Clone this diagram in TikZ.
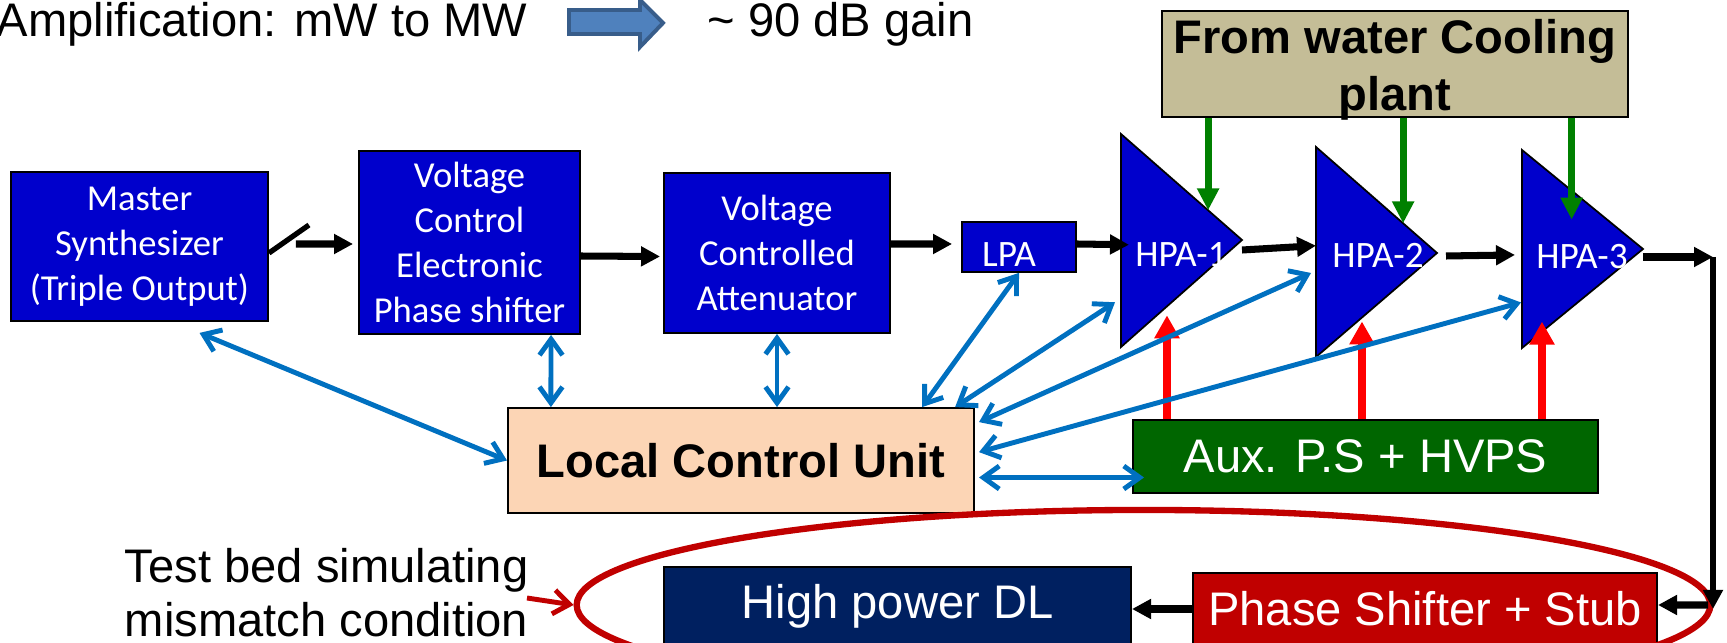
\documentclass[tikz,border=0pt]{standalone}
\usepackage{fontspec}
\setmainfont{Liberation Sans}
\newfontfamily\calib{Carlito}
\usetikzlibrary{arrows.meta, shapes.geometric, calc}
\definecolor{blkblue}{RGB}{0,0,204}
\definecolor{ctlblue}{RGB}{0,112,192}
\definecolor{lcupeach}{RGB}{252,213,181}
\definecolor{auxgreen}{RGB}{0,102,0}
\definecolor{coolgreen}{RGB}{0,128,0}
\definecolor{cooltan}{RGB}{196,189,151}
\definecolor{dlnavy}{RGB}{0,32,96}
\definecolor{stubred}{RGB}{192,0,0}
\definecolor{arrblue}{RGB}{79,129,189}
\definecolor{arredge}{RGB}{56,93,138}

\begin{document}
\begin{tikzpicture}[
        x=0.01cm, y=-0.01cm,
        blk/.style={draw, line width=0.5pt, fill=blkblue, text=white, font=\calib\fontsize{10.4}{12.8}\selectfont, align=center, inner sep=0pt},
        bigbox/.style={draw, line width=0.5pt, text=white, font=\fontsize{13.4}{16}\selectfont, inner sep=0pt},
        hpa/.style={draw, line width=0.5pt, fill=blkblue},
        hpatxt/.style={text=white, font=\calib\fontsize{10.6}{12}\selectfont, inner sep=0pt},
        sig/.style={-{Triangle[length=1.9mm, width=1.9mm]}, line width=2pt},
        slash/.style={line width=1.5pt},
        ctl/.style={{Straight Barb[length=1.6mm, width=2.3mm]}-{Straight Barb[length=1.6mm, width=2.3mm]}, line width=1.4pt, ctlblue},
        water/.style={-{Triangle[length=2.2mm, width=2.1mm]}, line width=2pt, coolgreen},
        hv/.style={-{Triangle[length=2.3mm, width=2.4mm]}, line width=2.2pt, red}
      ]
        \path[use as bounding box, clip] (0,0) rectangle (1727,643);

        % heading
        \node[font=\fontsize{13.4}{16}\selectfont, anchor=base east, inner sep=0pt] (title) at (528,37) {Amplification: mW to MW};
        \draw[fill=arrblue, draw=arredge, line width=1.1pt] (569,10) -- (640,10) -- (640,0) -- (663,23) -- (640,47) -- (640,34) -- (569,34) -- cycle;
        \node[font=\fontsize{13.4}{16}\selectfont, anchor=base west, inner sep=0pt] (gain) at (707,37) {\textasciitilde\ 90 dB gain};

        % low power chain
        \node[blk, minimum width=2.57cm, minimum height=1.49cm] (ms)    at (139.5,246.5) {Master\\Synthesizer\\(Triple Output)};
        \node[blk, minimum width=2.21cm, minimum height=1.83cm] (vceps) at (469.5,242.5) {Voltage\\Control\\Electronic\\Phase shifter};
        \node[blk, minimum width=2.26cm, minimum height=1.6cm]  (vca)   at (777,253) {Voltage\\Controlled\\Attenuator};
        \node[blk, font=\calib\fontsize{10.6}{12}\selectfont, text height=11pt, text depth=0pt, minimum width=1.14cm, minimum height=0.5cm] (lpa) at (1019,247) {LPA\hspace*{2mm}};

        % high power amplifiers
        \draw[hpa] (1121,134) coordinate (h1t) -- (1242,240) coordinate (h1o) -- (1121,347) coordinate (h1b) -- cycle;
        \draw[hpa] (1316,147) coordinate (h2t) -- (1437,253) coordinate (h2o) -- (1316,357) coordinate (h2b) -- cycle;
        \draw[hpa] (1522,150) coordinate (h3t) -- (1643,249) coordinate (h3o) -- (1522,348) coordinate (h3b) -- cycle;
        \node[hpatxt] (hpa1) at (1181,255) {HPA-1};
        \node[hpatxt] (hpa2) at (1378,255) {HPA-2};
        \node[hpatxt] (hpa3) at (1582,257) {HPA-3};

        % supplies
        \node[draw, line width=0.5pt, fill=cooltan, minimum width=4.66cm, minimum height=1.06cm] (cool) at (1395,64) {};
        \node[font=\bfseries\fontsize{13.4}{16.2}\selectfont, align=center, inner sep=0pt] (coolt) at (1395,69.5) {From water Cooling\\plant};
        \node[draw, line width=0.5pt, fill=lcupeach, minimum width=4.66cm, minimum height=1.05cm, font=\bfseries\fontsize{13.4}{16}\selectfont] (lcu) at (741,460.5) {Local Control Unit};
        \node[bigbox, fill=auxgreen, minimum width=4.65cm, minimum height=0.73cm] (aux) at (1365.5,456.5) {Aux. P.S + HVPS};

        % test bed
        \node[bigbox, fill=dlnavy, minimum width=4.67cm, minimum height=0.78cm] (hpdl) at (897.5,606) {High power DL};
        \node[bigbox, fill=stubred, minimum width=4.64cm, minimum height=0.72cm] (ps) at (1425,609) {Phase Shifter + Stub};
        \node[draw=stubred, line width=1.8pt, ellipse, minimum width=11.33cm, minimum height=1.9cm, inner sep=0pt] (tb) at (1143.5,605) {};
        \node[font=\fontsize{13.4}{15.4}\selectfont, align=right, anchor=east, inner sep=0pt] (tbnote) at (529,593) {Test bed simulating\\mismatch condition};
        \draw[-{Straight Barb[length=1.6mm, width=2.4mm]}, line width=1.4pt, stubred] ($(tbnote.east)+(-2,5)$) -- (tb.west);

        % rf path
        \coordinate (turn) at (1713,257);
        \draw[slash] ([yshift=-0.65mm]ms.east) -- ++(40,-28);
        \draw[sig] ([xshift=2.7mm, yshift=0.25mm]ms.east) -- ([xshift=-0.5mm, yshift=-0.15mm]vceps.west);
        \draw[sig] ([yshift=-1.35mm]vceps.east) -- ([xshift=-0.3mm, yshift=-0.35mm]vca.west);
        \draw[sig] ([yshift=0.9mm]vca.east) -- ([xshift=-0.9mm, yshift=0.3mm]lpa.west);
        \draw[sig] ([yshift=0.3mm]lpa.east) -- ($(h1t)!0.52!(h1b)+(8,0)$);
        \draw[sig] ($(h1o)+(0,10)$) -- ($(h2t)!0.47!(h2b)$);
        \draw[sig] ($(h2o)+(9,3)$) -- ($(h3t)!0.53!(h3b)+(-7,0)$);
        \draw[sig] ($(h3o)+(0,8)$) -- (turn);
        \draw[sig, line width=1.5pt] (turn) -- (turn |- ps.east);
        \draw[sig] ($(turn |- ps.east)+(-5,-4)$) -- ([yshift=0.4mm]ps.east);
        \draw[sig] (ps.west) -- (ps.west -| hpdl.east);

        % cooling water
        \coordinate (g1) at ($(h1t)!0.72!(h1o)$);
        \coordinate (g2) at ($(h2t)!0.72!(h2o)$);
        \coordinate (g3) at ($(h3t)!0.41!(h3o)+(0,29)$);
        \draw[water] (cool.south -| g1) -- (g1);
        \draw[water] (cool.south -| g2) -- (g2);
        \draw[water] (cool.south -| g3) -- (g3);

        % high voltage
        \coordinate (r1) at ($(h1b)!0.38!(h1o)+(0,9)$);
        \coordinate (r2) at ($(h2b)!0.38!(h2o)+(0,4)$);
        \coordinate (r3) at ($(h3b)!0.165!(h3o)+(0,-10)$);
        \draw[hv] (aux.north -| r1) -- (r1);
        \draw[hv] (aux.north -| r2) -- (r2);
        \draw[hv] (aux.north -| r3) -- (r3);

        % control links
        \draw[ctl] ($(ms.south)+(60,11)$) -- (lcu.west);
        \draw[ctl] ([xshift=8.15mm]vceps.south) -- ([xshift=-19mm]lcu.north);
        \draw[ctl] (vca.south) -- (vca.south |- lcu.north);
        \draw[ctl] (lpa.south) -- ([xshift=18.1mm]lcu.north);
        \draw[ctl] ($(h1t)!0.79!(h1b)+(-6,0)$) -- ([xshift=21.4mm]lcu.north);
        \draw[ctl] ($(h2t)!0.6!(h2b)+(-5,0)$) -- ([xshift=0.4mm, yshift=-1.5mm]lcu.north east);
        \draw[ctl] ($(h3t)!0.77!(h3b)+(-1,0)$) -- ([xshift=0.4mm, yshift=-4.5mm]lcu.north east);
        \draw[ctl] ([xshift=0.4mm, yshift=-1.7mm]lcu.east) -- ([xshift=1.2mm, yshift=-2.1mm]aux.west);
      \end{tikzpicture}
\end{document}
